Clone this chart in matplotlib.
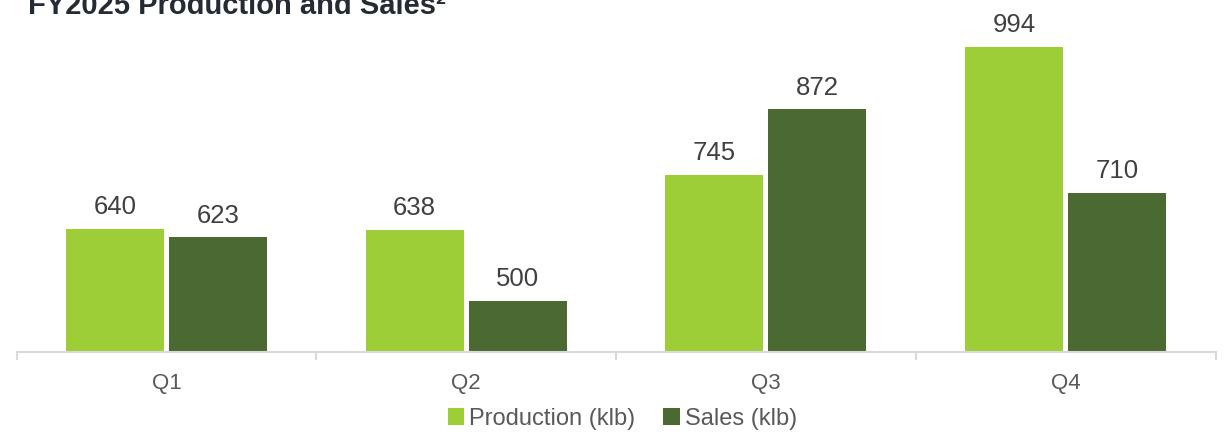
import matplotlib.pyplot as plt
import numpy as np

plt.rcParams['font.family'] = ['Liberation Sans', 'DejaVu Sans']

quarters = ['Q1', 'Q2', 'Q3', 'Q4']
production = [640, 638, 745, 994]
sales = [623, 500, 872, 710]

c_prod = '#9ECE37'
c_sales = '#4A6A32'

fig = plt.figure(figsize=(12.25, 4.34), dpi=100)
ax = fig.add_axes([0.0135, 0.189, 0.9788, 0.7696])

x = np.arange(len(quarters))
w = 0.327
off = 0.172
b1 = ax.bar(x - off, production, w, color=c_prod, label='Production (klb)')
b2 = ax.bar(x + off, sales, w, color=c_sales, label='Sales (klb)')

for bars, vals in ((b1, production), (b2, sales)):
    for b, v in zip(bars, vals):
        ax.annotate(f'{v}', (b.get_x() + b.get_width() / 2, v),
                    xytext=(0, 7), textcoords='offset points',
                    ha='center', va='bottom', fontsize=18.5, color='#404040')

ax.set_xlim(-0.5, 3.5)
ax.set_ylim(400, 1050)
ax.set_yticks([])
for s in ['top', 'right', 'left']:
    ax.spines[s].set_visible(False)
ax.spines['bottom'].set_color('#d9d9d9')
ax.spines['bottom'].set_linewidth(1.5)

ax.set_xticks(x)
ax.set_xticklabels(quarters, fontsize=16, color='#595959')
ax.tick_params(axis='x', which='major', length=0, pad=15)
ax.set_xticks(np.arange(-0.5, 4, 1), minor=True)
ax.tick_params(axis='x', which='minor', length=6, width=1.5, color='#d9d9d9')

fig.text(0.023, 0.968, 'FY2025 Production and Sales²', fontsize=21,
         fontweight='bold', color='#252b34', va='baseline')

fig.legend(loc='center', bbox_to_anchor=(0.508, 0.035), ncol=2, frameon=False,
           fontsize=17, labelcolor='#595959', handlelength=0.7, handleheight=0.7,
           handletextpad=0.2, columnspacing=1.2)

fig.savefig('out.png', dpi=100)
